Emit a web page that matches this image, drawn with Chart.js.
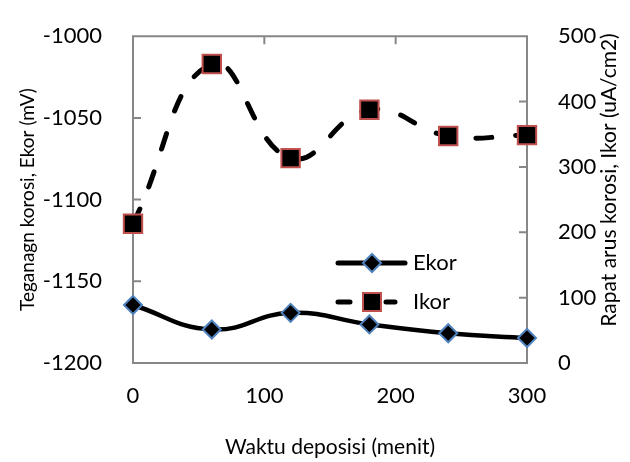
<!DOCTYPE html>
<html lang="id">
<head>
    <meta charset="UTF-8">
    <title>Ekor dan Ikor vs Waktu deposisi</title>
    <script src="https://cdn.jsdelivr.net/npm/chart.js@4"></script>
    <style>
        html, body { margin: 0; padding: 0; background: #fff; }
        #chart { display: block; }
    </style>
</head>
<body>
    <canvas id="chart" width="630" height="462"></canvas>
    <script>
        // data
        const waktu = [0, 60, 120, 180, 240, 300];
        const ekor = [-1164.5, -1179.5, -1169.3, -1176.4, -1181.8, -1184.7];
        const ikor = [213, 457.5, 313.5, 387.4, 347.4, 348.6];
        const xTicks = [0, 100, 200, 300];
        const yLeftTicks = [-1200, -1150, -1100, -1050, -1000];
        const yRightTicks = [0, 100, 200, 300, 400, 500];

        const FONT = 'Lato';
        const AXIS_GRAY = '#878787';

        const toPoints = (xs, ys) => xs.map((x, i) => ({ x: x, y: ys[i] }));
        const plain = v => String(v);

        // frame + inward tick marks like the Excel original
        const framePlugin = {
            id: 'frame',
            beforeDatasetsDraw(chart) {
                const { ctx, chartArea: a, scales } = chart;
                ctx.save();
                ctx.strokeStyle = AXIS_GRAY;
                ctx.lineWidth = 2;
                ctx.beginPath();
                ctx.rect(a.left, a.top, a.right - a.left, a.bottom - a.top);
                yLeftTicks.forEach(v => {
                    const y = scales.y.getPixelForValue(v);
                    ctx.moveTo(a.left, y); ctx.lineTo(a.left + 8, y);
                });
                yRightTicks.forEach(v => {
                    const y = scales.y2.getPixelForValue(v);
                    ctx.moveTo(a.right, y); ctx.lineTo(a.right - 8, y);
                });
                xTicks.forEach(v => {
                    const x = scales.x.getPixelForValue(v);
                    ctx.moveTo(x, a.top); ctx.lineTo(x, a.top + 8);
                });
                ctx.stroke();
                ctx.restore();
            }
        };

        // right title reads bottom-to-top, and the legend sits inside the plot
        const extrasPlugin = {
            id: 'extras',
            afterDraw(chart) {
                const ctx = chart.ctx;
                ctx.save();
                ctx.fillStyle = '#000';
                ctx.font = '21px ' + FONT;
                ctx.textAlign = 'center';
                ctx.textBaseline = 'middle';
                ctx.translate(609, 180);
                ctx.rotate(-Math.PI / 2);
                ctx.fillText('Rapat arus korosi, Ikor (uA/cm2)', 0, 0);
                ctx.restore();

                // legend
                ctx.save();
                ctx.strokeStyle = '#000';
                ctx.lineWidth = 5;
                ctx.lineCap = 'round';
                ctx.beginPath();
                ctx.moveTo(338, 263); ctx.lineTo(405, 263);
                ctx.stroke();
                ctx.beginPath();
                ctx.moveTo(338, 302); ctx.lineTo(350, 302);
                ctx.moveTo(386, 302); ctx.lineTo(395, 302);
                ctx.stroke();
                // diamond
                ctx.fillStyle = '#000';
                ctx.strokeStyle = '#4f81bd';
                ctx.lineWidth = 2;
                ctx.beginPath();
                ctx.moveTo(372 - 9, 263); ctx.lineTo(372, 263 - 9);
                ctx.lineTo(372 + 9, 263); ctx.lineTo(372, 263 + 9);
                ctx.closePath();
                ctx.fill(); ctx.stroke();
                // square
                ctx.strokeStyle = '#c0504d';
                ctx.beginPath();
                ctx.rect(363, 293, 18, 18);
                ctx.fill(); ctx.stroke();
                ctx.font = '22px ' + FONT;
                ctx.textAlign = 'left';
                ctx.textBaseline = 'middle';
                ctx.fillText('Ekor', 413, 263);
                ctx.fillText('Ikor', 413, 302);
                ctx.restore();
            }
        };

        new Chart(document.getElementById('chart'), {
            type: 'line',
            data: {
                datasets: [{
                    label: 'Ekor',
                    data: toPoints(waktu, ekor),
                    yAxisID: 'y',
                    borderColor: '#000',
                    borderWidth: 4.5,
                    tension: 0.45,
                    pointStyle: 'rectRot',
                    pointRadius: 9,
                    pointBackgroundColor: '#000',
                    pointBorderColor: '#4f81bd',
                    pointBorderWidth: 2,
                    clip: false
                }, {
                    label: 'Ikor',
                    data: toPoints(waktu, ikor),
                    yAxisID: 'y2',
                    borderColor: '#000',
                    borderWidth: 5,
                    borderDash: [16, 24],
                    borderCapStyle: 'round',
                    tension: 0.45,
                    pointStyle: 'rect',
                    pointRadius: 13,
                    pointBackgroundColor: '#000',
                    pointBorderColor: '#c0504d',
                    pointBorderWidth: 2,
                    clip: false
                }]
            },
            options: {
                responsive: false,
                animation: false,
                layout: { padding: { top: 18, left: 0, right: 0, bottom: 0 } },
                plugins: { legend: { display: false }, tooltip: { enabled: false } },
                scales: {
                    x: {
                        type: 'linear',
                        min: 0, max: 300,
                        afterBuildTicks: s => { s.ticks = xTicks.map(v => ({ value: v })); },
                        afterFit: s => { s.height = 99; },
                        grid: { display: false },
                        border: { display: false },
                        ticks: { color: '#000', font: { family: FONT, size: 22 }, padding: 12, maxRotation: 0, callback: plain },
                        title: {
                            display: true, text: 'Waktu deposisi (menit)', color: '#000',
                            font: { family: FONT, size: 21 }, padding: { top: 0, bottom: 2 }
                        }
                    },
                    y: {
                        position: 'left',
                        min: -1200, max: -1000,
                        afterBuildTicks: s => { s.ticks = yLeftTicks.map(v => ({ value: v })); },
                        afterFit: s => { s.width = 133; },
                        grid: { display: false },
                        border: { display: false },
                        ticks: { color: '#000', font: { family: FONT, size: 22 }, padding: 23, callback: plain },
                        title: {
                            display: true, text: 'Teganagn korosi, Ekor (mV)', color: '#000',
                            font: { family: FONT, size: 19 }, padding: { top: 16, bottom: 0 }
                        }
                    },
                    y2: {
                        position: 'right',
                        min: 0, max: 500,
                        afterBuildTicks: s => { s.ticks = yRightTicks.map(v => ({ value: v })); },
                        afterFit: s => { s.width = 103; },
                        grid: { display: false },
                        border: { display: false },
                        ticks: { color: '#000', font: { family: FONT, size: 22 }, padding: 23, callback: plain }
                    }
                }
            },
            plugins: [framePlugin, extrasPlugin]
        });
    </script>
</body>
</html>
